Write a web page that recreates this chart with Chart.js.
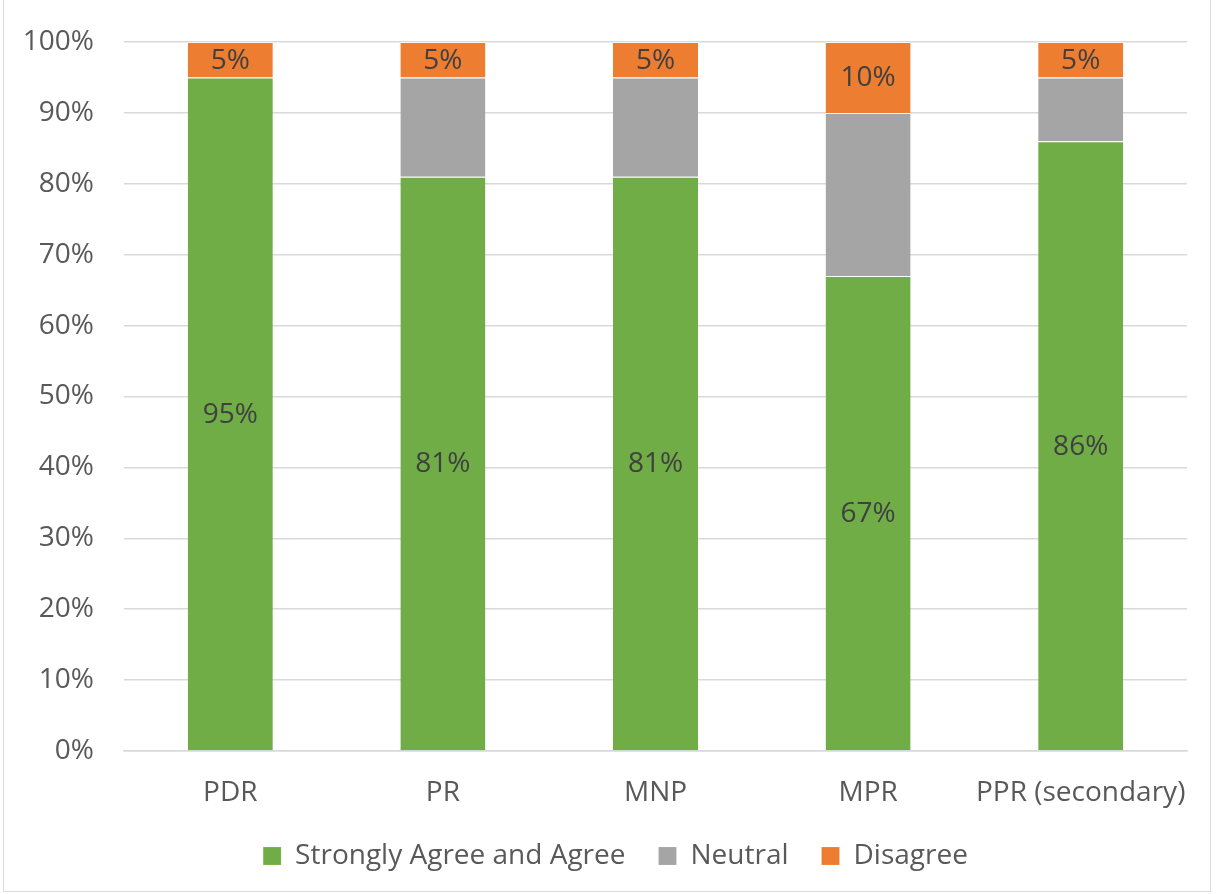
<!DOCTYPE html>
<html>
<head>
<meta charset="utf-8">
<script src="https://cdn.jsdelivr.net/npm/chart.js@4.4.0/dist/chart.umd.min.js"></script>
<style>
  html, body { margin:0; padding:0; background:#fff; }
  #wrap { position:absolute; left:3px; top:0; width:1208px; height:892px; border:1px solid #d9d9d9; border-top:none; box-sizing:border-box; }
  #chart { position:absolute; left:0; top:0; }
</style>
</head>
<body>
<div id="wrap"></div>
<canvas id="chart" width="1216" height="894"></canvas>
<script>
const categories = ['PDR', 'PR', 'MNP', 'MPR', 'PPR (secondary)'];
const agree    = [95, 81, 81, 67, 86];
const neutral  = [0, 14, 14, 23, 9];
const disagree = [5, 5, 5, 10, 5];
const yTicks   = [0, 10, 20, 30, 40, 50, 60, 70, 80, 90, 100];

const FONT = "'Open Sans', sans-serif";

// value labels in the middle of the green and orange segments
const segLabels = {
  id: 'segLabels',
  afterDatasetsDraw(chart) {
    const ctx = chart.ctx;
    ctx.save();
    ctx.font = `28px ${FONT}`;
    ctx.fillStyle = '#404040';
    ctx.textAlign = 'center';
    ctx.textBaseline = 'middle';
    chart.data.datasets.forEach((ds, i) => {
      if (!ds.showLabels) return;
      chart.getDatasetMeta(i).data.forEach((bar, j) => {
        const v = ds.data[j];
        if (!v) return;
        const mid = (bar.y + bar.base) / 2;
        ctx.fillText(v + '%', bar.x, mid + 1);
      });
    });
    ctx.restore();
  }
};

// nudge the legend a bit right to line up with the reference
const legendShift = {
  id: 'legendShift',
  afterLayout(chart) {
    const lg = chart.legend, dy = -2, dx = 12;
    lg.top += dy; lg.bottom += dy;
    lg.left += dx; lg.right += dx;
  }
};

new Chart(document.getElementById('chart'), {
  type: 'bar',
  data: {
    labels: categories,
    datasets: [
      { label:'Strongly Agree and Agree', data: agree,    backgroundColor:'#70ad47', showLabels:true },
      { label:'Neutral',                  data: neutral,  backgroundColor:'#a5a5a5', showLabels:false },
      { label:'Disagree',                 data: disagree, backgroundColor:'#ed7d31', showLabels:true },
    ].map(d => ({ ...d, borderWidth:{ top:1 }, borderColor:'rgba(255,255,255,0.6)', borderSkipped:'start', categoryPercentage:1, barPercentage:0.4 }))
  },
  options: {
    responsive:false, animation:false,
    layout: { padding: { left:20, right:29, top:42, bottom:12 } },
    plugins: {
      legend: {
        position:'bottom',
        labels: { font:{ family:FONT, size:28 }, color:'#595959', boxWidth:18, boxHeight:18, padding:33, useBorderRadius:false },
      },
      tooltip: { enabled:false },
    },
    scales: {
      x: {
        stacked:true,
        grid: { display:false },
        border: { display:true, color:'#d9d9d9', width:1.5 },
        ticks: { font:{ family:FONT, size:28 }, color:'#595959', padding:17, maxRotation:0 },
        afterFit: s => { s.height = 60; },
      },
      y: {
        stacked:true, min:0, max:100,
        afterBuildTicks: s => { s.ticks = yTicks.map(v => ({ value:v })); },
        grid: { color:'#d9d9d9', lineWidth:1.5, drawTicks:false },
        border: { display:false },
        ticks: { font:{ family:FONT, size:28 }, color:'#595959', padding:30, callback: v => v + '%' },
        afterFit: s => { s.width = 104; s.paddingTop = 0; s.paddingBottom = 0; },
      },
    },
  },
  plugins: [segLabels, legendShift],
});
</script>
</body>
</html>
